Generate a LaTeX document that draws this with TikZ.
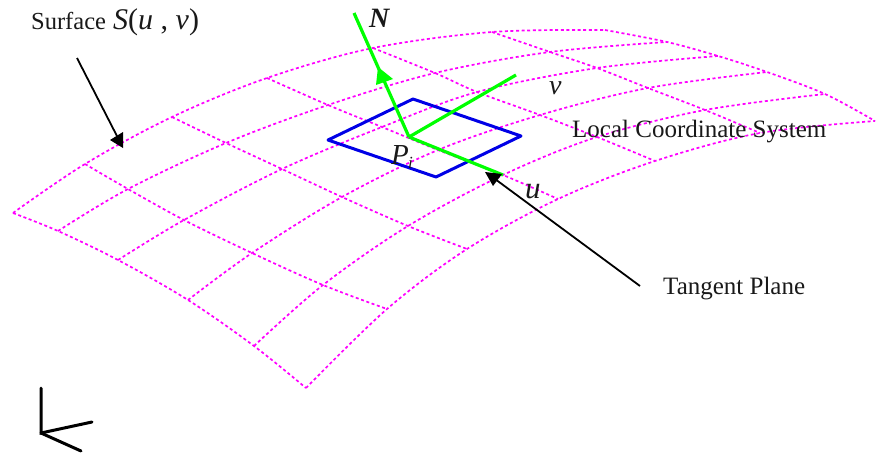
\documentclass[tikz,border=0pt]{standalone}
\usepackage{fontspec}
\setmainfont{Liberation Serif}
\usetikzlibrary{arrows.meta}
\definecolor{gridmag}{RGB}{255,0,255}
\definecolor{axisgreen}{RGB}{0,255,0}
\definecolor{planeblue}{RGB}{0,0,230}
\tikzset{
  gridline/.style={draw=gridmag,line width=1.7pt,dash pattern=on 3pt off 2.6pt,smooth,tension=0.55},
  greenaxis/.style={draw=axisgreen,line width=3.2pt},
  plane/.style={draw=planeblue,line width=3pt,line join=round},
  leader/.style={draw=black,line width=1.8pt},
  tip/.style={fill=black,draw=none},
  frameaxis/.style={draw=black,line width=3pt,line cap=round},
  lab/.style={inner sep=0pt,anchor=base west,text=black!90},
}
\begin{document}
\begin{tikzpicture}[x=1pt,y=-1pt]
\useasboundingbox (0,0) rectangle (876,453);
% long curves
\draw[gridline] plot coordinates {(13,213)(85,164)(172,117)(267,78)(373,48)(492,32)(605,30)};
\draw[gridline] plot coordinates {(58,231)(128,189)(226,143)(328,105)(435,73)(550,52)(667,42)};
\draw[gridline] plot coordinates {(118,260)(184,220)(282,169)(382,127)(477,92)(597,68)(718,56)};
\draw[gridline] plot coordinates {(188,300)(252,253)(342,197)(438,150)(540,115)(648,88)(767,72)};
\draw[gridline] plot coordinates {(254,346)(323,285)(408,226)(503,175)(597,137)(705,110)(825,94)};
\draw[gridline] plot coordinates {(306,388)(387,309)(467,249)(558,199)(655,161)(760,133)(875,121)};
% cross curves
\draw[gridline] plot coordinates {(13,213)(58,231)(118,260)(188,300)(254,346)(306,388)};
\draw[gridline] plot coordinates {(85,164)(128,189)(184,220)(252,253)(323,285)(387,309)};
\draw[gridline] plot coordinates {(172,117)(226,143)(282,169)(342,197)(408,226)(467,249)};
\draw[gridline] plot coordinates {(267,78)(328,105)(382,127)(438,150)(503,175)(558,199)};
\draw[gridline] plot coordinates {(373,48)(435,73)(477,92)(540,115)(597,137)(655,161)};
\draw[gridline] plot coordinates {(492,32)(550,52)(597,68)(648,88)(705,110)(760,133)};
\draw[gridline] plot coordinates {(605,30)(667,42)(718,56)(767,72)(825,94)(875,121)};
% tangent plane
\coordinate (pa) at (328,140);
\coordinate (pb) at (413,99);
\coordinate (pc) at (521,136);
\coordinate (pd) at (436,177);
\draw[plane] (pa) -- (pb) -- (pc) -- (pd) -- cycle;
% local axes
\coordinate (O) at (409,137);
\coordinate (Ntop) at (354,13);
\coordinate (Vend) at (516,75);
\coordinate (Uend) at (503,175);
\draw[greenaxis] (O) -- (Ntop);
\draw[greenaxis] (O) -- (Vend);
\draw[greenaxis] (O) -- (Uend);
\coordinate (Ntip) at (378,67);
\coordinate (Nb1) at (376,85);
\coordinate (Nb2) at (393,79);
\fill[axisgreen] (Ntip) -- (Nb1) -- (Nb2) -- cycle;
% leaders
\coordinate (s1) at (77,58);
\coordinate (s2) at (119,140);
\coordinate (st) at (123,148);
\coordinate (sa) at (110,140);
\coordinate (sb) at (123,132);
\draw[leader] (s1) -- (s2);
\fill[tip] (st) -- (sa) -- (sb) -- cycle;
\coordinate (t1) at (640,286);
\coordinate (t2) at (495,179);
\coordinate (tt) at (485,172);
\coordinate (ta) at (493,186);
\coordinate (tb) at (502,174);
\draw[leader] (t1) -- (t2);
\fill[tip] (tt) -- (ta) -- (tb) -- cycle;
% frame axes
\coordinate (F) at (41,433);
\coordinate (Fu) at (41,388);
\coordinate (Fr) at (92,422);
\coordinate (Fd) at (81,451);
\draw[frameaxis] (Fu) -- (F) -- (Fr);
\draw[frameaxis] (F) -- (Fd);
% labels
\node[lab,font=\fontsize{24.5}{26}\selectfont] (surf) at (31,29) {Surface};
\node[lab,font=\fontsize{30}{32}\selectfont] (slab) at (113,29) {\itshape S\normalfont(\itshape u\normalfont\ , \itshape v\normalfont)};
\node[lab,font=\fontsize{28}{30}\selectfont\bfseries\itshape] (nlab) at (369,27) {N};
\node[lab,font=\fontsize{28}{30}\selectfont\itshape] (vlab) at (549,94) {v};
\node[lab,font=\fontsize{25}{27}\selectfont] (loc) at (572,137) {Local Coordinate System};
\node[lab,font=\fontsize{29}{31}\selectfont\itshape] (plab) at (391,164) {P};
\node[lab,font=\fontsize{17}{19}\selectfont\itshape] (ilab) at (408,168) {i};
\node[lab,font=\fontsize{31}{33}\selectfont\itshape] (ulab) at (525,198) {u};
\node[lab,font=\fontsize{25}{27}\selectfont] (tan) at (663,294) {Tangent Plane};
\end{tikzpicture}
\end{document}
